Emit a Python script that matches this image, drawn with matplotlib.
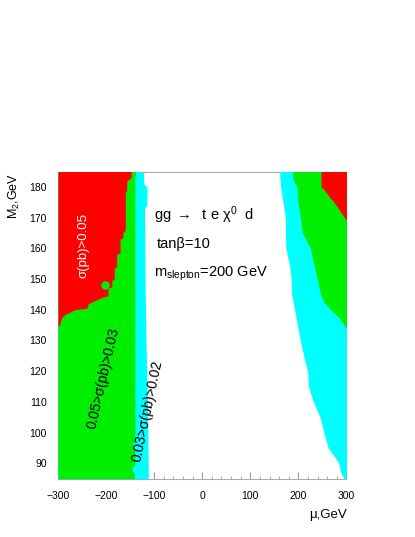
import matplotlib.pyplot as plt
from matplotlib.ticker import MultipleLocator

plt.rcParams['font.family'] = ['Liberation Sans', 'DejaVu Sans']
plt.rcParams['mathtext.fontset'] = 'custom'
plt.rcParams['mathtext.rm'] = 'Liberation Sans'
plt.rcParams['mathtext.it'] = 'Liberation Sans:italic'

# region edges, (M2, mu) pairs
# left side: regions run from mu=-300 up to the edge
red_l_m2 = [185, 183, 182, 179, 178, 166, 165, 163.5, 163, 158.5, 158, 154, 153.5, 150, 149.5,
            147.5, 147, 144.5, 144, 143, 142, 140.5, 140, 138.5, 137.5, 135.5, 134.5]
red_l_mu = [-148, -148, -157, -157, -160, -160, -165, -165, -171, -171, -178, -178, -183, -183, -188,
            -188, -196, -196, -209, -223, -237, -240, -265, -285, -292, -296, -300]

green_l_m2 = [185, 184, 183, 100, 97.5, 96, 94.5, 90, 89.5, 88, 86.5, 85]
green_l_mu = [-139, -139, -140, -140, -140, -146, -140, -140, -141, -147, -141, -141]

cyan_l_m2 = [185, 181, 180, 174, 173, 150, 130, 110, 85]
cyan_l_mu = [-122, -122, -115, -115, -120, -119, -117, -114, -112]

# right side: regions run from the edge up to mu=300
cyan_r_m2 = [185, 180, 175, 170, 165, 160, 155, 150, 145, 140, 135, 130, 125, 120, 115,
             110, 105, 100, 95, 92.5, 90, 87, 85]
cyan_r_mu = [161, 163, 168, 173, 173, 174, 181, 185, 186, 192, 198, 204, 211, 219, 221,
             231, 245, 253, 262, 274, 284, 288, 295]

green_r_m2 = [185, 182, 180, 175, 170, 165, 162.5, 160, 155, 150, 145, 142.5, 140, 137.5, 135, 134]
green_r_mu = [187, 190, 197, 199, 204, 208, 217, 225, 232, 239, 246, 253, 267, 284, 295, 300]

red_r_m2 = [185, 180, 179, 177, 175, 173.5, 172, 170.5, 169]
red_r_mu = [247, 247, 254, 263, 274, 281, 287, 294, 300]

# stray green point inside the red area
dot_mu = [-202]
dot_m2 = [148]

red = '#ff0000'
green = '#00ee00'
cyan = '#00ffff'

fig = plt.figure(figsize=(4.15, 5.37), dpi=100)
ax = fig.add_axes([0.1398, 0.1086, 0.695, 0.572])

# left side, widest first
ax.fill_betweenx(cyan_l_m2, -300, cyan_l_mu, color=cyan, lw=0, zorder=3)
ax.fill_betweenx(green_l_m2, -300, green_l_mu, color=green, lw=0, zorder=3)
ax.fill_betweenx(red_l_m2, -300, red_l_mu, color=red, lw=0, zorder=3)
ax.scatter(dot_mu, dot_m2, s=38, color=green, lw=0, zorder=3)

# right side
ax.fill_betweenx(cyan_r_m2, cyan_r_mu, 300, color=cyan, lw=0, zorder=3)
ax.fill_betweenx(green_r_m2, green_r_mu, 300, color=green, lw=0, zorder=3)
ax.fill_betweenx(red_r_m2, red_r_mu, 300, color=red, lw=0, zorder=3)

ax.set_xlim(-300, 300)
ax.set_ylim(85, 185)

ax.xaxis.set_major_locator(MultipleLocator(100))
ax.xaxis.set_minor_locator(MultipleLocator(20))
ax.yaxis.set_major_locator(MultipleLocator(10))
ax.tick_params(axis='both', which='both', direction='in', color='#999999',
               labelsize=7.5, labelcolor='black')
ax.tick_params(axis='x', which='major', length=5, pad=9)
ax.tick_params(axis='x', which='minor', length=2.5)
ax.tick_params(axis='y', which='major', length=5, pad=8)
for s in ax.spines.values():
    s.set_color('#aaaaaa')
    s.set_linewidth(0.8)

# region labels
ax.text(-246, 161, 'σ(pb)>0.05', color='white', fontsize=9.5, rotation=90,
        ha='center', va='center', zorder=5)
ax.text(-206, 117.6, '0.05>σ(pb)>0.03', color='black', fontsize=10, rotation=77,
        ha='center', va='center', zorder=5)
ax.text(-113.5, 107.2, '0.03>σ(pb)>0.02', color='black', fontsize=10, rotation=78,
        ha='center', va='center', zorder=5)

ax.text(-100, 170.8, 'gg $\\rightarrow$  t e χ$^{0}$  d', fontsize=10.5, ha='left', va='center', zorder=5)
ax.text(-95, 161.4, 'tanβ=10', fontsize=10.5, ha='left', va='center', zorder=5)
ax.text(-100, 151.7, 'm$_{\\mathrm{slepton}}$=200 GeV', fontsize=10.5, ha='left', va='center', zorder=5)

fig.text(0.036, 0.678, 'M$_{2}$,GeV', rotation=90, fontsize=9, ha='center', va='top')
fig.text(0.836, 0.041, 'μ,GeV', fontsize=9.5, ha='right', va='center')

fig.savefig('out.png', dpi=100)
